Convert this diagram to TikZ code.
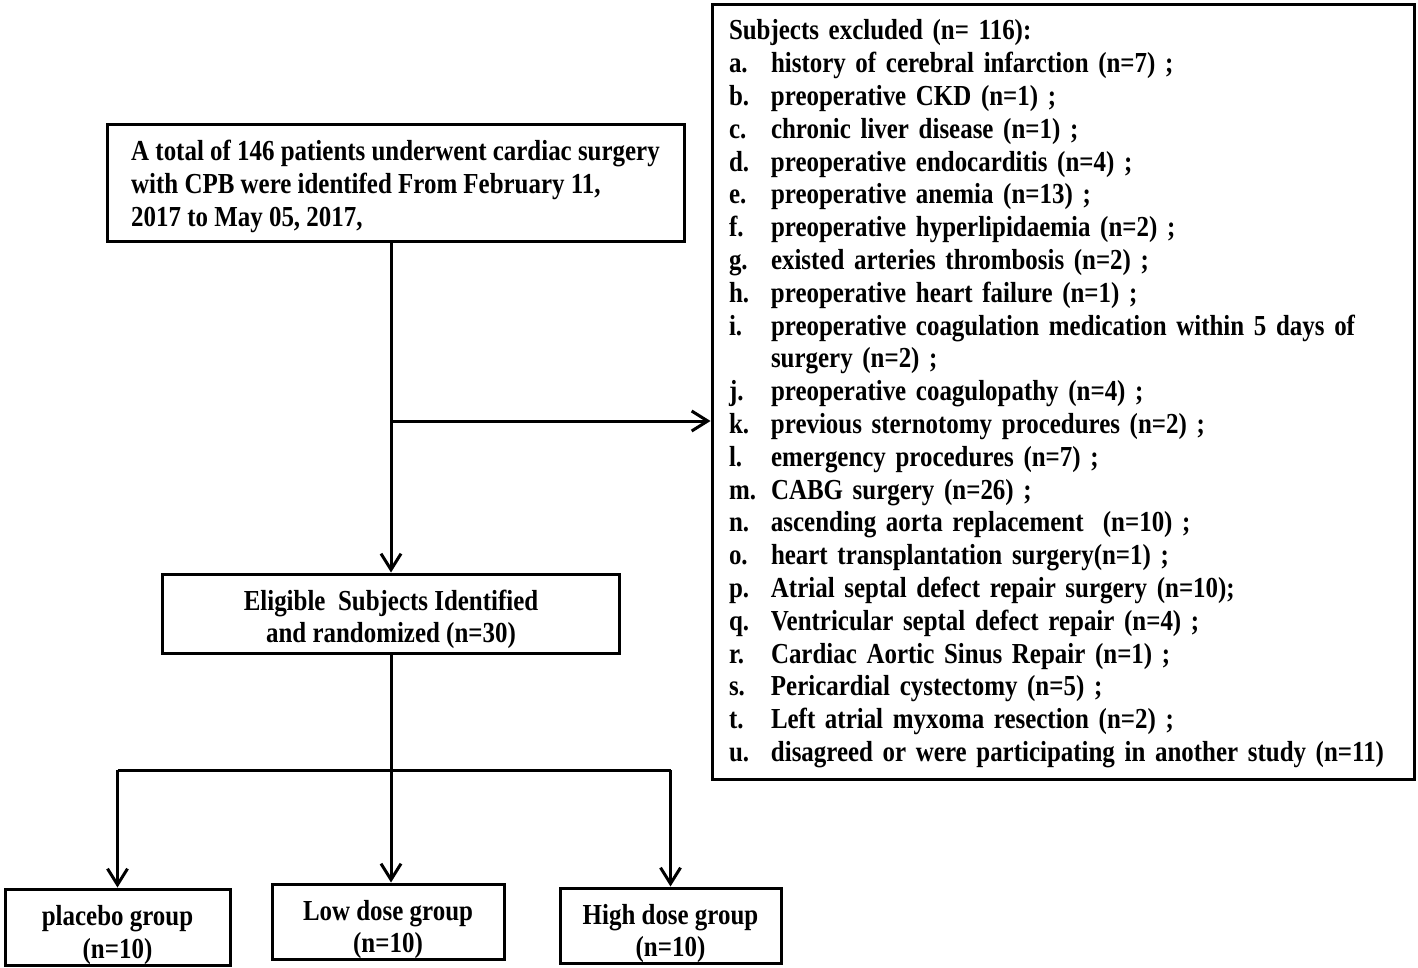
\documentclass[tikz,border=0pt]{standalone}
\usepackage{fontspec}
\setmainfont{Liberation Serif}[FakeStretch=0.86]
\usetikzlibrary{arrows.meta}
\newcommand\exitem[2]{\makebox[21pt][l]{#1}#2}
\newcommand\dn[1]{\rule{0pt}{#1}}
\begin{document}
\begin{tikzpicture}[x=0.5pt,y=-0.5pt,
  font=\fontsize{14.5}{16.4}\selectfont\bfseries,
  box/.style={draw, line width=1.5pt, inner sep=0pt, align=center},
  conn/.style={line width=1.5pt},
  arr/.style={conn,-{Straight Barb[length=8pt,width=10pt,line width=1.5pt]}}]
\useasboundingbox (0,0) rectangle (1418,968);
\fill[white] (0,0) rectangle (1418,968);
% boxes
\node[box, minimum width=288.5pt, minimum height=58.5pt, align=left] (top) at (395.5,183.5)
 {\dn{13pt}A total of 146 patients underwent cardiac surgery\\with CPB were identifed From February 11,\\2017 to May 05, 2017,};
\node[box, minimum width=351pt, minimum height=387pt, text width=334pt, align=left] (excl) at (1063,392)
 {\dn{12pt}Subjects excluded (n= 116):\\
  \exitem{a.}{history of cerebral infarction (n=7) ;}\\
  \exitem{b.}{preoperative CKD (n=1) ;}\\
  \exitem{c.}{chronic liver disease (n=1) ;}\\
  \exitem{d.}{preoperative endocarditis (n=4) ;}\\
  \exitem{e.}{preoperative anemia (n=13) ;}\\
  \exitem{f.}{preoperative hyperlipidaemia (n=2) ;}\\
  \exitem{g.}{existed arteries thrombosis (n=2) ;}\\
  \exitem{h.}{preoperative heart failure (n=1) ;}\\
  \exitem{i.}{preoperative coagulation medication within 5 days of}\\
  \exitem{}{surgery (n=2) ;}\\
  \exitem{j.}{preoperative coagulopathy (n=4) ;}\\
  \exitem{k.}{previous sternotomy procedures (n=2) ;}\\
  \exitem{l.}{emergency procedures (n=7) ;}\\
  \exitem{m.}{CABG surgery (n=26) ;}\\
  \exitem{n.}{ascending aorta replacement \ (n=10) ;}\\
  \exitem{o.}{heart transplantation surgery(n=1) ;}\\
  \exitem{p.}{Atrial septal defect repair surgery (n=10);}\\
  \exitem{q.}{Ventricular septal defect repair (n=4) ;}\\
  \exitem{r.}{Cardiac Aortic Sinus Repair (n=1) ;}\\
  \exitem{s.}{Pericardial cystectomy (n=5) ;}\\
  \exitem{t.}{Left atrial myxoma resection (n=2) ;}\\
  \exitem{u.}{disagreed or were participating in another study (n=11)}};
\node[box, minimum width=228.5pt, minimum height=39.5pt] (elig) at (391,613.5)
 {\dn{16pt}Eligible \ Subjects Identified\\and randomized (n=30)};
\node[box, minimum width=112.5pt, minimum height=38pt] (plac) at (117.5,927)
 {\dn{18pt}placebo group\\(n=10)};
\node[box, minimum width=116pt, minimum height=37.5pt] (low) at (388,921.5)
 {\dn{18pt}Low dose group\\(n=10)};
\node[box, minimum width=110.5pt, minimum height=37.5pt] (high) at (670.5,925.5)
 {\dn{18pt}High dose group\\(n=10)};
% connectors
\draw[arr] (top.south -| elig.north) -- (elig.north);
\coordinate (br) at (391,421);
\draw[arr] (br) -- (br -| excl.west);
\coordinate (sp) at (391,770);
\draw[conn] (elig.south) -- (sp);
\draw[conn] (sp -| plac.north) -- (sp -| high.north);
\draw[arr] (sp -| plac.north) -- (plac.north);
\draw[arr] (sp) -- (sp |- low.north);
\draw[arr] (sp -| high.north) -- (high.north);
\end{tikzpicture}
\end{document}
